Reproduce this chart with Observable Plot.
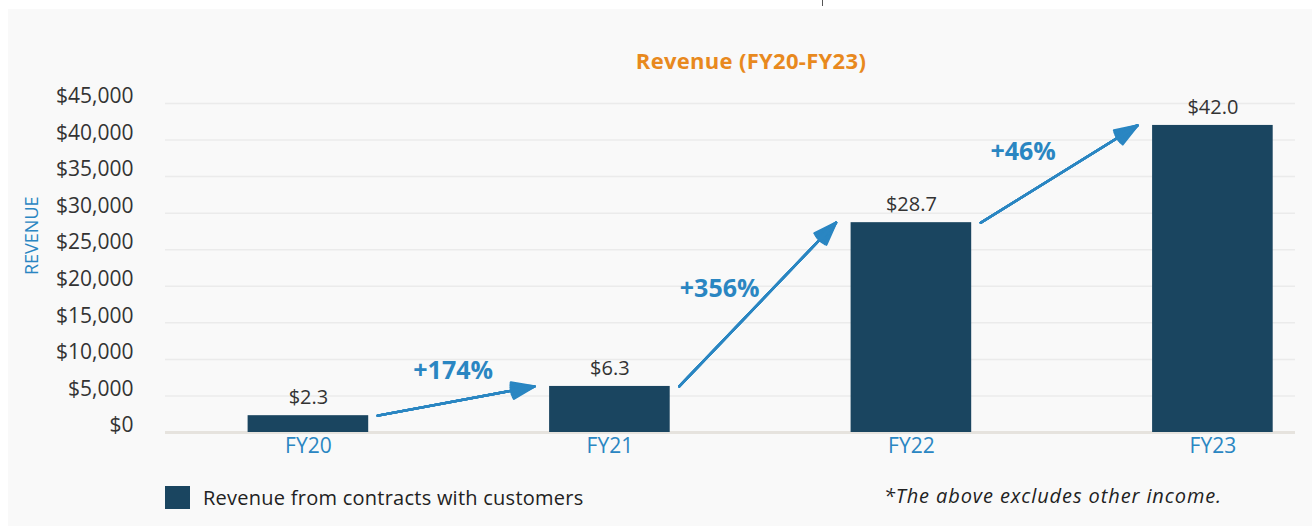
<!DOCTYPE html>
<html>
<head>
<meta charset="utf-8">
<script src="https://cdn.jsdelivr.net/npm/d3@7"></script>
<script src="https://cdn.jsdelivr.net/npm/@observablehq/plot@0.6"></script>
<style>
  html, body { margin: 0; padding: 0; background: #ffffff; width: 1312px; height: 526px; overflow: hidden; font-family: "Open Sans", sans-serif; }
  #panel { position: absolute; left: 8px; top: 9px; width: 1304px; height: 517px; background: #f9f9f9; }
  #mark { position: absolute; left: 822px; top: 0; width: 1px; height: 6px; background: #555; }
  #title { position: absolute; left: 0; width: 1502px; top: 45px; text-align: center; color: #e8891e; font-weight: 700; font-size: 22px; letter-spacing: 0.3px; }
  #chart { position: absolute; left: 0; top: 0; }
  #legend { position: absolute; left: 165px; top: 484px; display: flex; align-items: center; font-size: 20px; letter-spacing: 0.25px; color: #222; }
  #legend .sw { width: 25px; height: 23px; background: #1a4560; margin-right: 13px; }
  #note { position: absolute; right: 90px; top: 482px; font-size: 20px; letter-spacing: 0.9px; font-style: italic; color: #222; }
</style>
</head>
<body>
<div id="panel"></div>
<div id="mark"></div>
<div id="title">Revenue (FY20-FY23)</div>
<div id="chart"></div>
<div id="legend"><div class="sw"></div><span id="legendText"></span></div>
<div id="note"></div>
<script>
// ---- data ----
const years = ["FY20", "FY21", "FY22", "FY23"];
const revenue = [2300, 6300, 28700, 42000];
const valueLabels = ["$2.3", "$6.3", "$28.7", "$42.0"];
const growthLabels = ["+174%", "+356%", "+46%"];
const yTicks = [0, 5000, 10000, 15000, 20000, 25000, 30000, 35000, 40000, 45000];
const seriesName = "Revenue from contracts with customers";
const footnote = "*The above excludes other income.";
const yTitle = "REVENUE";

// ---- tables ----
const bars = years.map((year, i) => ({ i, year, value: revenue[i], label: valueLabels[i] }));
const arrows = growthLabels.map((label, k) => ({ from: k, to: k + 1, v1: revenue[k], v2: revenue[k + 1], label }));

const barColor = "#1a4560";
const blue = "#2a86c2";
const halfBar = 0.2;
const gapStart = 0.23, gapEnd = 0.25;
const labelOffsets = [[-3, -30], [-38, -16], [-36, -22]];

const arrowOpts = (angle) => ({
  x1: d => d.from + gapStart, y1: "v1",
  x2: d => d.to - gapEnd, y2: "v2",
  stroke: blue, strokeWidth: 2.4, headLength: 15, headAngle: angle, bend: 0
});

const chart = Plot.plot({
  width: 1312,
  height: 470,
  marginLeft: 165,
  marginRight: 17,
  marginTop: 103,
  marginBottom: 38,
  style: { background: "transparent", fontFamily: "'Open Sans', sans-serif", overflow: "visible" },
  x: { type: "linear", domain: [-0.474, 3.274] },
  y: { domain: [0, 45000] },
  marks: [
    Plot.gridY(yTicks, { stroke: "#ebebeb", strokeOpacity: 1, strokeWidth: 1.5 }),
    Plot.ruleY([0], { stroke: "#e6e3de", strokeWidth: 3 }),
    Plot.rectY(bars, { x1: d => d.i - halfBar, x2: d => d.i + halfBar, y: "value", fill: barColor }),
    Plot.text(bars, { x: "i", y: "value", text: "label", dy: -18, fontSize: 20, fill: "#333" }),
    ...[40, 32, 24, 16, 8, 2].map(a => Plot.arrow(arrows, arrowOpts(a))),
    ...arrows.map((a, k) => Plot.text([a], {
      x: d => (d.from + gapStart + d.to - gapEnd) / 2,
      y: d => (d.v1 + d.v2) / 2,
      text: "label", dx: labelOffsets[k][0], dy: labelOffsets[k][1],
      fontSize: 25, fontWeight: 700, fill: blue
    })),
    Plot.axisY({ ticks: yTicks, tickFormat: d => "$" + d3.format(",")(d), tickSize: 0, tickPadding: 32, dy: -7, fontSize: 21, color: "#333", label: null }),
    Plot.axisX({ ticks: [0, 1, 2, 3], tickFormat: i => years[i], tickSize: 0, tickPadding: 6, fontSize: 21, color: blue, label: null, style: { letterSpacing: "1px" } }),
    Plot.text([yTitle], { frameAnchor: "left", text: d => d, rotate: -90, dx: -133, dy: 7, fontSize: 18, fill: blue, style: { letterSpacing: "1px" } })
  ]
});
document.getElementById("chart").appendChild(chart);
document.getElementById("legendText").textContent = seriesName;
document.getElementById("note").textContent = footnote;
</script>
</body>
</html>
